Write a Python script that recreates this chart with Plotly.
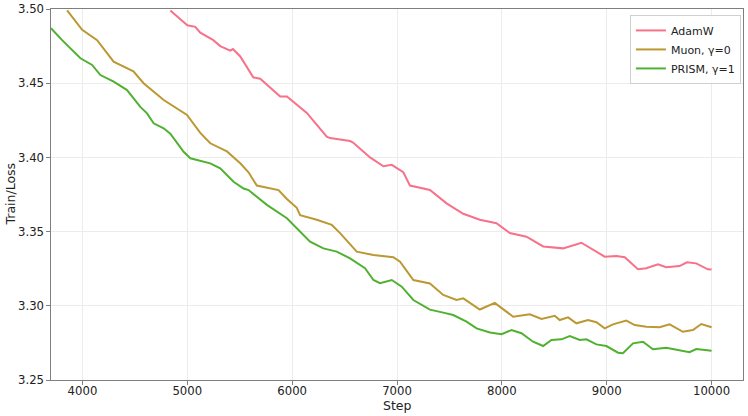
import plotly.graph_objects as go

adamw_step = [4838, 5000, 5076, 5124, 5248, 5314, 5410, 5435, 5505, 5629, 5695, 5886, 5950, 6140,
              6330, 6362, 6552, 6581, 6743, 6870, 6950, 7060, 7124, 7314, 7473, 7632, 7790, 7949,
              8076, 8235, 8394, 8584, 8759, 8870, 8981, 9092, 9172, 9298, 9378, 9489, 9568, 9695,
              9765, 9854, 9965, 10000]
adamw_loss = [3.499, 3.489, 3.488, 3.484, 3.479, 3.475, 3.472, 3.473, 3.468, 3.454, 3.453, 3.441,
              3.441, 3.430, 3.414, 3.413, 3.411, 3.410, 3.400, 3.394, 3.395, 3.390, 3.381, 3.378,
              3.369, 3.362, 3.358, 3.3556, 3.349, 3.3466, 3.340, 3.3387, 3.3425, 3.3376, 3.3331,
              3.3336, 3.3327, 3.3246, 3.3253, 3.328, 3.326, 3.3268, 3.3293, 3.3286, 3.3246, 3.3244]

muon_step = [3854, 3997, 4140, 4297, 4486, 4583, 4775, 4902, 4997, 5124, 5219, 5378, 5505, 5584,
             5663, 5870, 5950, 6044, 6076, 6235, 6378, 6457, 6616, 6775, 6965, 7029, 7156, 7314,
             7441, 7568, 7632, 7790, 7933, 8108, 8267, 8378, 8505, 8552, 8632, 8711, 8822, 8902,
             8981, 9060, 9187, 9267, 9378, 9505, 9600, 9727, 9822, 9902, 10000]
muon_loss = [3.499, 3.486, 3.479, 3.4645, 3.458, 3.450, 3.4387, 3.433, 3.4286, 3.4165, 3.4095,
             3.404, 3.396, 3.390, 3.381, 3.378, 3.372, 3.366, 3.361, 3.358, 3.3545, 3.349, 3.3365,
             3.3342, 3.3327, 3.3297, 3.3174, 3.315, 3.3073, 3.304, 3.305, 3.2975, 3.302, 3.2926,
             3.2943, 3.2911, 3.2933, 3.2904, 3.2922, 3.2882, 3.2904, 3.2889, 3.2848, 3.2875, 3.29,
             3.287, 3.2859, 3.2855, 3.2875, 3.2825, 3.2837, 3.2877, 3.2855]

prism_step = [3700, 3806, 3981, 4092, 4171, 4298, 4425, 4552, 4616, 4679, 4774, 4838, 4965, 5029,
              5219, 5314, 5441, 5537, 5584, 5759, 5950, 6076, 6171, 6298, 6425, 6552, 6695, 6775,
              6838, 6950, 7045, 7156, 7314, 7441, 7536, 7663, 7759, 7886, 7997, 8092, 8187, 8298,
              8394, 8473, 8568, 8648, 8743, 8806, 8902, 8997, 9108, 9155, 9251, 9346, 9441, 9568,
              9695, 9790, 9854, 10000]
prism_loss = [3.487, 3.479, 3.4668, 3.4623, 3.4555, 3.451, 3.4454, 3.434, 3.4297, 3.423, 3.4196,
              3.416, 3.4038, 3.3994, 3.396, 3.3926, 3.3836, 3.379, 3.378, 3.368, 3.359, 3.350,
              3.3432, 3.3387, 3.3365, 3.332, 3.3253, 3.3174, 3.3152, 3.3174, 3.3129, 3.3039,
              3.2974, 3.2954, 3.2938, 3.2893, 3.2848, 3.282, 3.2808, 3.2837, 3.2815, 3.2758,
              3.2729, 3.277, 3.2774, 3.2796, 3.277, 3.2774, 3.274, 3.2729, 3.2684, 3.268, 3.2747,
              3.2758, 3.2707, 3.2718, 3.2702, 3.2687, 3.2709, 3.2697]

series_names = ["AdamW", "Muon, γ=0", "PRISM, γ=1"]
series_colors = ["#f77189", "#bb9832", "#50b131"]
x_ticks = [4000, 5000, 6000, 7000, 8000, 9000, 10000]
y_ticks = [3.25, 3.30, 3.35, 3.40, 3.45, 3.50]

fig = go.Figure()
for name, color, xs, ys in zip(series_names, series_colors,
                               [adamw_step, muon_step, prism_step],
                               [adamw_loss, muon_loss, prism_loss]):
    fig.add_trace(go.Scatter(x=xs, y=ys, mode="lines", name=name,
                             line=dict(color=color, width=2)))

axis_common = dict(showline=True, linecolor="#7f7f7f", linewidth=1.2, mirror=True,
                   showgrid=True, gridcolor="#ececec", gridwidth=1, zeroline=False,
                   ticks="outside", ticklen=3.5, tickcolor="#7f7f7f", automargin=False,
                   tickfont=dict(family="DejaVu Sans", size=11.7, color="#222"))

L, R, T, B = 51, 5, 9, 36
W, H = 748, 416
pw, ph = W - L - R, H - T - B

fig.update_layout(
    width=W, height=H,
    margin=dict(l=L, r=R, t=T, b=B, autoexpand=False),
    paper_bgcolor="white", plot_bgcolor="white",
    font=dict(family="DejaVu Sans", color="#222"),
    xaxis=dict(range=[3700, 10300], tickvals=x_ticks, tickformat="d",
               ticklabelstandoff=-4, **axis_common),
    yaxis=dict(range=[3.25, 3.50], tickvals=y_ticks, tickformat=".2f", **axis_common),
    legend=dict(x=0.997, y=0.984, xanchor="right", yanchor="top",
                bgcolor="rgba(255,255,255,0.85)", bordercolor="#d0d0d0", borderwidth=1,
                font=dict(size=11, family="DejaVu Sans"), itemwidth=30,
                tracegroupgap=0),
    showlegend=True,
    annotations=[
        dict(text="Step", xref="paper", yref="paper", x=0.5, y=-(405.5 - (H - B)) / ph,
             xanchor="center", yanchor="middle", showarrow=False,
             font=dict(size=12.5, family="DejaVu Sans", color="#222")),
        dict(text="Train/Loss", xref="paper", yref="paper", x=(10 - L) / pw, y=0.5,
             xanchor="center", yanchor="middle", textangle=-90, showarrow=False,
             font=dict(size=12.5, family="DejaVu Sans", color="#222")),
    ],
)

fig.write_html("out.html", config={"displayModeBar": False},
               post_script="document.body.style.margin='0';")
